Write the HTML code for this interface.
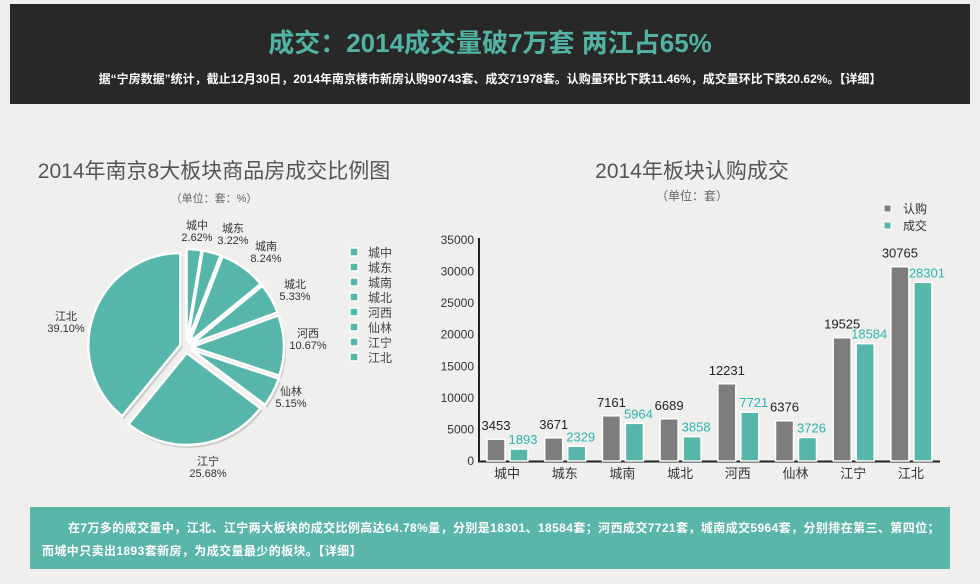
<!DOCTYPE html>
<html><head><meta charset="utf-8"><style>
body{margin:0;width:980px;height:584px;background:#efefed;font-family:"Liberation Sans","Noto Sans CJK SC",sans-serif;position:relative;overflow:hidden}
.hdr{position:absolute;left:10px;top:4px;width:960px;height:100px;background:#282828}
.h1{position:absolute;top:19px;width:960px;text-align:center;color:#52b3a4;font-size:26px;font-weight:bold}
.h2{position:absolute;top:66px;width:960px;text-align:center;color:#fff;font-size:12px;font-weight:bold;white-space:nowrap}
.foot{position:absolute;left:30px;top:507px;width:920px;height:62px;background:#5bb6aa;color:#fff;font-size:12px;font-weight:bold;white-space:nowrap;letter-spacing:0.4px}
svg{position:absolute;left:0;top:0}
</style></head><body>
<div class="hdr"><div class="h1">成交：2014成交量破7万套 两江占65%</div>
<div class="h2">据“宁房数据”统计，截止12月30日，2014年南京楼市新房认购90743套、成交71978套。认购量环比下跌11.46%，成交量环比下跌20.62%。【详细】</div></div>
<svg width="980" height="584" id="s" font-family="Liberation Sans, Noto Sans CJK SC, sans-serif">
<text x="214" y="178" text-anchor="middle" font-size="21" fill="#555">2014年南京8大板块商品房成交比例图</text>
<text x="214" y="202" text-anchor="middle" font-size="11" fill="#666">（单位：套：%）</text>
<text x="692" y="178" text-anchor="middle" font-size="21" fill="#555">2014年板块认购成交</text>
<text x="692" y="200" text-anchor="middle" font-size="12" fill="#666">（单位：套）</text>
</svg>
<div class="foot"><div style="position:absolute;left:38px;top:12px">在7万多的成交量中，江北、江宁两大板块的成交比例高达64.78%量，分别是18301、18584套；河西成交7721套，城南成交5964套，分别排在第三、第四位；</div>
<div style="position:absolute;left:12px;top:35px">而城中只卖出1893套新房，为成交量最少的板块。【详细】</div></div>
<script>
var s=document.getElementById('s'),h='';
var names=['城中','城东','城南','城北','河西','仙林','江宁','江北'];
var pct=[2.62,3.22,8.24,5.33,10.67,5.15,25.68,39.10];
var lab=[[197,229,'2.62%'],[233,232,'3.22%'],[266,250,'8.24%'],[295,288,'5.33%'],[308,337,'10.67%'],[291,395,'5.15%'],[208,465,'25.68%'],[66,320,'39.10%']];
var cx=186,cy=347,r=92,a=0,T='#56b6aa';
for(var i=0;i<8;i++){var a1=a+pct[i]/100*2*Math.PI,m=(a+a1)/2,ex=6;
var ox=cx+ex*Math.sin(m),oy=cy-ex*Math.cos(m);
var p=function(t,R,x,y){return [(x+R*Math.sin(t)).toFixed(1),(y-R*Math.cos(t)).toFixed(1)]};
var P0=p(a,r,ox,oy),P1=p(a1,r,ox,oy),lg=(a1-a)>Math.PI?1:0;
h+='<path d="M'+(ox+2)+','+(oy+3)+'L'+(+P0[0]+2)+','+(+P0[1]+3)+'A'+r+','+r+' 0 '+lg+' 1 '+(+P1[0]+2)+','+(+P1[1]+3)+'Z" fill="#ccc"/>';
h+='<path d="M'+ox+','+oy+'L'+P0+'A'+r+','+r+' 0 '+lg+' 1 '+P1+'Z" fill="'+T+'" stroke="#fff" stroke-width="2.5"/>';
a=a1;
var L=lab[i];h+='<text x="'+L[0]+'" y="'+L[1]+'" text-anchor="middle" font-size="11" fill="#333">'+names[i]+'</text><text x="'+L[0]+'" y="'+(L[1]+12)+'" text-anchor="middle" font-size="11" fill="#333">'+L[2]+'</text>';
h+='<rect x="350" y="'+(248+i*15)+'" width="8" height="8" fill="'+T+'" stroke="#fff" stroke-width="1.5"/><text x="368" y="'+(257+i*15)+'" font-size="12" fill="#444">'+names[i]+'</text>';}
var x0=479,y0=461,k=221/35000;
for(var j=0;j<=7;j++){var yy=y0-j*5000*k;h+='<text x="474" y="'+(yy+4)+'" text-anchor="end" font-size="12" fill="#333">'+(j*5000)+'</text>';}
h+='<line x1="'+x0+'" y1="238" x2="'+x0+'" y2="462" stroke="#222" stroke-width="2"/><line x1="478" y1="461.5" x2="940" y2="461.5" stroke="#222" stroke-width="2"/>';
var g=[3453,3671,7161,6689,12231,6376,19525,30765],c=[1893,2329,5964,3858,7721,3726,18584,28301];
for(var i=0;i<8;i++){var bx=487+i*57.7,hg=g[i]*k,hc=c[i]*k;
h+='<rect x="'+bx+'" y="'+(y0-hg)+'" width="18" height="'+hg+'" fill="#7d7d7d" stroke="#fff" stroke-width="1.5"/>';
h+='<rect x="'+(bx+23)+'" y="'+(y0-hc)+'" width="18" height="'+hc+'" fill="'+T+'" stroke="#fff" stroke-width="1.5"/>';
h+='<text x="'+(bx+9)+'" y="'+(y0-hg-9)+'" text-anchor="middle" font-size="13" fill="#222">'+g[i]+'</text>';
h+='<text x="'+(bx+36)+'" y="'+(y0-hc-5)+'" text-anchor="middle" font-size="13" fill="#2bb5b0">'+c[i]+'</text>';
h+='<text x="'+(bx+20)+'" y="478" text-anchor="middle" font-size="13" fill="#333">'+names[i]+'</text>';}
h+='<rect x="884" y="205" width="7" height="7" fill="#7d7d7d" stroke="#fff"/><text x="903" y="213" font-size="12" fill="#333">认购</text>';
h+='<rect x="884" y="222" width="7" height="7" fill="'+T+'" stroke="#fff"/><text x="903" y="230" font-size="12" fill="#333">成交</text>';
s.insertAdjacentHTML('beforeend',h);
</script>
</body></html>
